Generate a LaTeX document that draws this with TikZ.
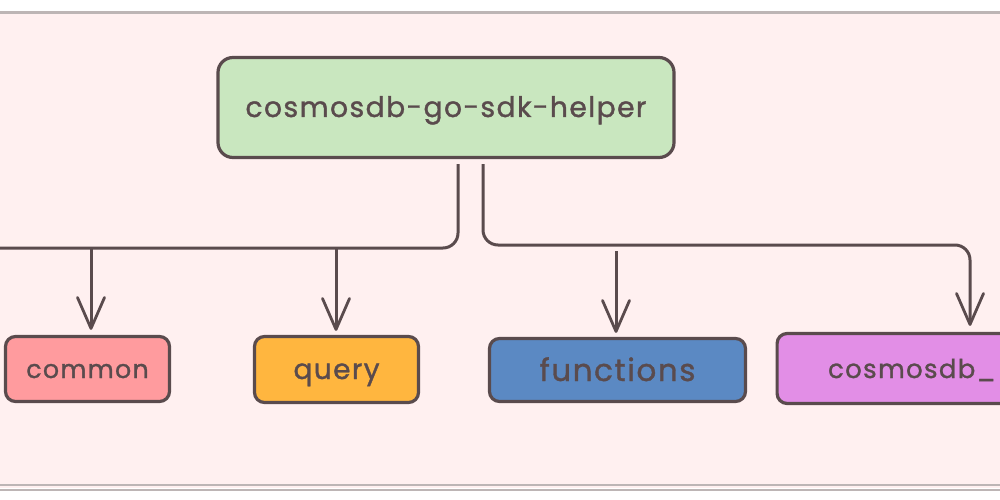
\documentclass[tikz,border=0pt]{standalone}
\usepackage{fontspec}
\setmainfont{Poppins}
\newfontfamily\hand[LetterSpace=5,FakeBold=1.2]{Poppins}
\usetikzlibrary{arrows.meta,positioning}
\definecolor{ink}{HTML}{5A4B4D}
\definecolor{paper}{HTML}{FFF0F0}
\definecolor{rim}{HTML}{BDB5B5}
\definecolor{cgreen}{HTML}{C9E7BF}
\definecolor{cred}{HTML}{FF9B9E}
\definecolor{corange}{HTML}{FFB63F}
\definecolor{cblue}{HTML}{5B89C3}
\definecolor{cpurple}{HTML}{E28EE6}
\tikzset{
  x=1pt,y=-1pt,
  boxnode/.style={draw=ink,line width=3.2pt,rounded corners=10pt,text=ink,inner sep=0pt,text depth=0pt},
  link/.style={draw=ink,line width=3pt,rounded corners=15pt},
  linkarrow/.style={link,-{Straight Barb[length=31pt,width=27pt,line width=2.8pt,round]}},
  rimline/.style={draw=rim}
}
\begin{document}
\begin{tikzpicture}
\useasboundingbox (0,0) rectangle (1000,500);
\fill[white] (0,0) rectangle (1000,500);
\fill[paper] (0,12) rectangle (1000,488);
\draw[rimline,line width=3pt] (0,12.5) -- (1000,12.5);
\draw[rimline,line width=2pt] (0,485) -- (1000,485);
\draw[rimline,line width=2pt] (0,489.5) -- (1000,489.5);
\node[boxnode,fill=cgreen,minimum width=456pt,minimum height=100pt,rounded corners=15pt,text height=19pt,font=\hand\fontsize{28.2}{32}\selectfont] (root) at (446,107.5) {cosmosdb-go-sdk-helper};
\node[boxnode,fill=cred,minimum width=164pt,minimum height=65pt,text height=18pt,font=\hand\fontsize{25.3}{30}\selectfont] (common) at (87.5,369) {common};
\node[boxnode,fill=corange,minimum width=164pt,minimum height=66pt,text height=19pt,font=\hand\fontsize{28}{30}\selectfont] (query) at (336.5,369.5) {query};
\node[boxnode,fill=cblue,minimum width=256pt,minimum height=63pt,text height=22pt,font=\hand\fontsize{31}{34}\selectfont] (functions) at (617.5,370) {functions};
\node[boxnode,fill=cpurple,anchor=west,minimum height=70pt,text width=260pt,inner xsep=51pt,text height=19pt,font=\hand\fontsize{26}{32}\selectfont] (cosmos) at (775.5,368.5) {cosmosdb\_};
\coordinate (busL) at (0,248);
\coordinate (srcL) at (458,164);
\coordinate (srcR) at (483,164);
\coordinate (busR) at (970,245);
\coordinate (t1) at (91,249);
\coordinate (t2) at (336,249);
\coordinate (t3) at (616,251);
\draw[link] (srcL) |- (busL);
\draw[linkarrow,shorten >=6pt] (srcR) |- (busR) -- (busR |- cosmos.north);
\draw[linkarrow,shorten >=5pt] (t1) -- (t1 |- common.north);
\draw[linkarrow,shorten >=4pt] (t2) -- (t2 |- query.north);
\draw[linkarrow,shorten >=4pt] (t3) -- (t3 |- functions.north);
\end{tikzpicture}
\end{document}
